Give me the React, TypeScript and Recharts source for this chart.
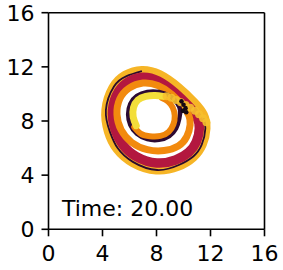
import { ComposedChart, Line, Scatter, XAxis, YAxis, ReferenceLine, ReferenceDot } from 'recharts';

const ticks = [0, 4, 8, 12, 16];
const timeLabel = 'Time: 20.00';

// outermost yellow loop
const outerYellow = [
  { x: 11.75, y: 7.5 }, { x: 11.45, y: 6.2 }, { x: 10.8, y: 5.3 }, { x: 9.7, y: 4.6 },
  { x: 8.0, y: 4.22 }, { x: 6.15, y: 4.85 }, { x: 4.98, y: 5.9 }, { x: 4.38, y: 7.15 },
  { x: 4.1, y: 8.8 }, { x: 4.72, y: 10.62 }, { x: 5.62, y: 11.45 }, { x: 6.9, y: 11.85 },
  { x: 8.2, y: 11.55 }, { x: 9.65, y: 10.5 }, { x: 10.9, y: 9.3 }, { x: 11.55, y: 8.5 },
];

// thin dark trail between yellow and crimson
const darkThin = [
  { x: 6.92, y: 11.68 }, { x: 5.75, y: 11.3 }, { x: 4.85, y: 10.55 }, { x: 4.25, y: 8.8 },
  { x: 4.55, y: 7.2 }, { x: 5.12, y: 6.0 }, { x: 6.25, y: 4.98 }, { x: 8.05, y: 4.38 },
  { x: 9.65, y: 4.75 }, { x: 10.72, y: 5.38 }, { x: 11.35, y: 6.25 }, { x: 11.62, y: 7.45 },
  { x: 11.5, y: 8.2 },
];

const crimson = [
  { x: 11.25, y: 7.5 }, { x: 11.0, y: 6.4 }, { x: 10.45, y: 5.65 }, { x: 9.5, y: 5.08 },
  { x: 8.05, y: 4.75 }, { x: 6.4, y: 5.3 }, { x: 5.4, y: 6.25 }, { x: 4.88, y: 7.35 },
  { x: 4.6, y: 8.8 }, { x: 5.15, y: 10.35 }, { x: 5.98, y: 11.0 }, { x: 6.95, y: 11.33 },
  { x: 8.1, y: 11.08 }, { x: 9.4, y: 10.1 }, { x: 10.5, y: 9.0 }, { x: 11.05, y: 8.3 },
];

const midOrange = [
  { x: 10.55, y: 7.8 }, { x: 10.3, y: 6.8 }, { x: 9.7, y: 6.1 }, { x: 8.6, y: 5.75 },
  { x: 7.3, y: 5.8 }, { x: 6.1, y: 6.35 }, { x: 5.3, y: 7.3 }, { x: 4.98, y: 8.5 },
  { x: 5.2, y: 9.7 }, { x: 5.9, y: 10.5 }, { x: 7.0, y: 10.9 }, { x: 8.1, y: 10.7 },
  { x: 9.2, y: 10.0 }, { x: 10.05, y: 9.0 }, { x: 10.45, y: 8.4 },
];

const darkRing = [
  { x: 9.7, y: 8.2 }, { x: 9.5, y: 7.4 }, { x: 9.0, y: 6.85 }, { x: 8.2, y: 6.55 },
  { x: 7.3, y: 6.6 }, { x: 6.5, y: 7.0 }, { x: 6.0, y: 7.7 }, { x: 5.85, y: 8.5 },
  { x: 6.0, y: 9.3 }, { x: 6.5, y: 9.9 }, { x: 7.3, y: 10.2 }, { x: 8.2, y: 10.2 },
  { x: 9.0, y: 9.9 }, { x: 9.6, y: 9.3 }, { x: 9.8, y: 8.8 },
];

const innerOrange = [
  { x: 6.35, y: 7.55 }, { x: 6.85, y: 7.05 }, { x: 7.5, y: 6.88 }, { x: 8.3, y: 6.9 },
  { x: 8.9, y: 7.2 }, { x: 9.25, y: 7.75 }, { x: 9.35, y: 8.4 }, { x: 9.2, y: 9.0 },
  { x: 8.85, y: 9.45 }, { x: 8.4, y: 9.7 },
];

const innerYellow = [
  { x: 6.5, y: 7.65 }, { x: 6.27, y: 8.3 }, { x: 6.3, y: 9.0 }, { x: 6.62, y: 9.55 },
  { x: 7.2, y: 9.82 }, { x: 7.9, y: 9.88 }, { x: 8.5, y: 9.82 },
];

// loose yellow markers running out to the outer loop
const yellowTrail = [
  { x: 8.75, y: 9.82 }, { x: 9.1, y: 9.72 }, { x: 9.45, y: 9.55 }, { x: 9.8, y: 9.38 },
  { x: 10.15, y: 9.18 }, { x: 10.5, y: 8.98 }, { x: 10.85, y: 8.75 }, { x: 11.15, y: 8.5 },
  { x: 11.45, y: 8.2 }, { x: 11.7, y: 7.9 },
];

const blackDots = [
  { x: 9.85, y: 9.45 }, { x: 10.0, y: 9.2 }, { x: 10.15, y: 8.95 }, { x: 9.95, y: 8.75 },
  { x: 10.2, y: 8.65 },
];

const font = 'DejaVu Sans, sans-serif';
const axisLine = { stroke: '#000', strokeWidth: 1.6 };
const tickStyle = { fontSize: 22, fill: '#000', fontFamily: font };

export default function App() {
  return (
    <div style={{ position: 'absolute', left: 0, top: 0, width: 283, height: 270, background: '#fff', fontFamily: font }}>
      <ComposedChart width={283} height={270} margin={{ top: 12.7, right: 18.5, bottom: 0, left: 0 }}>
        <XAxis
          type="number"
          dataKey="x"
          domain={[0, 16]}
          ticks={ticks}
          interval={0}
          allowDataOverflow
          height={40.7}
          tickSize={7}
          tickMargin={9}
          axisLine={axisLine}
          tickLine={axisLine}
          tick={tickStyle}
        />
        <YAxis
          type="number"
          dataKey="y"
          domain={[0, 16]}
          ticks={ticks}
          interval={0}
          allowDataOverflow
          width={48.5}
          tickSize={7}
          tickMargin={7}
          axisLine={axisLine}
          tickLine={axisLine}
          tick={tickStyle}
        />
        <ReferenceLine y={16} stroke="#000" strokeWidth={1.6} />
        <ReferenceLine x={16} stroke="#000" strokeWidth={1.6} />

        <Line data={outerYellow} dataKey="y" type="basisClosed" stroke="#f6b526" strokeWidth={9} dot={false} activeDot={false} isAnimationActive={false} />
        <Line data={darkThin} dataKey="y" type="natural" stroke="#2a0b2e" strokeWidth={1.8} dot={false} activeDot={false} isAnimationActive={false} />
        <Line data={crimson} dataKey="y" type="basisClosed" stroke="#b3173f" strokeWidth={9.5} dot={false} activeDot={false} isAnimationActive={false} />
        <Line data={midOrange} dataKey="y" type="basisClosed" stroke="#f28a0e" strokeWidth={7} dot={false} activeDot={false} isAnimationActive={false} />
        <Line data={darkRing} dataKey="y" type="basisClosed" stroke="#2c0a33" strokeWidth={4.5} dot={false} activeDot={false} isAnimationActive={false} />
        <Line data={innerOrange} dataKey="y" type="natural" stroke="#ef850b" strokeWidth={6} strokeLinecap="round" dot={false} activeDot={false} isAnimationActive={false} />
        <Line data={innerYellow} dataKey="y" type="natural" stroke="#f3de3a" strokeWidth={7} strokeLinecap="round" dot={false} activeDot={false} isAnimationActive={false} />
        <Scatter
          data={yellowTrail}
          dataKey="y"
          isAnimationActive={false}
          shape={(p: any) => <circle cx={p.cx} cy={p.cy} r={4} fill="#f6c02e" fillOpacity={0.9} />}
        />
        <Scatter
          data={blackDots}
          dataKey="y"
          isAnimationActive={false}
          shape={(p: any) => <circle cx={p.cx} cy={p.cy} r={2.3} fill="#150814" />}
        />
        <ReferenceDot
          x={1}
          y={1}
          r={0}
          shape={(p: any) => (
            <text x={p.cx} y={p.cy} fontSize={22} fontFamily={font} fill="#000">
              {timeLabel}
            </text>
          )}
        />
      </ComposedChart>
    </div>
  );
}
